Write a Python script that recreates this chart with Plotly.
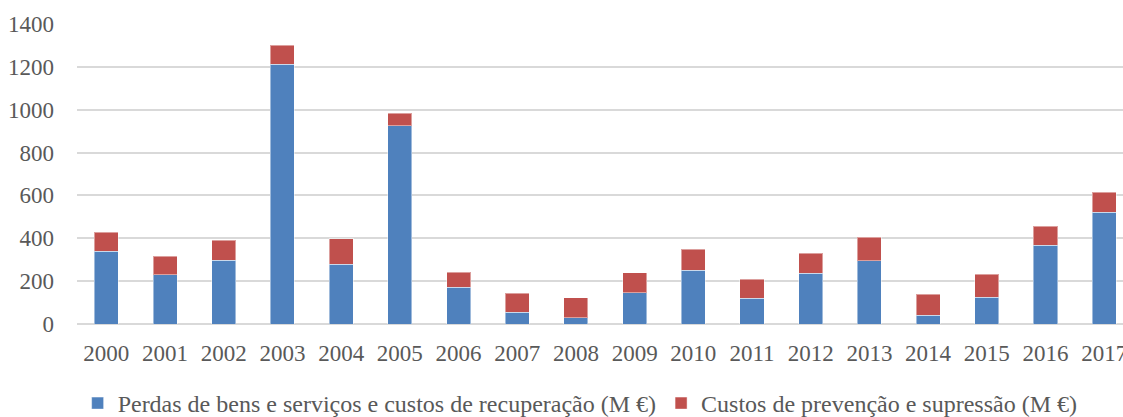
import plotly.graph_objects as go

years = ["2000", "2001", "2002", "2003", "2004", "2005", "2006", "2007", "2008",
         "2009", "2010", "2011", "2012", "2013", "2014", "2015", "2016", "2017"]
perdas = [339, 230, 297, 1212, 278, 926, 171, 54, 30, 145, 250, 120, 236, 296, 40, 126, 367, 521]
custos = [90, 87, 95, 88, 120, 57, 70, 89, 93, 95, 98, 90, 95, 108, 98, 107, 90, 93]
y_ticks = [0, 200, 400, 600, 800, 1000, 1200, 1400]

name_a = "Perdas de bens e serviços e custos de recuperação (M €)"
name_b = "Custos de prevenção e supressão (M €)"

FONT = "Times New Roman"
fig = go.Figure()
fig.add_trace(go.Bar(x=years, y=perdas, name=name_a,
                     marker=dict(color="#4F81BD", line=dict(color="rgba(255,255,255,0.45)", width=1))))
fig.add_trace(go.Bar(x=years, y=custos, name=name_b,
                     marker=dict(color="#C0504D", line=dict(color="rgba(255,255,255,0.45)", width=1))))

fig.update_layout(
    barmode="stack",
    bargap=0.59,
    width=1123, height=417,
    margin=dict(l=77, r=0, t=24, b=93, autoexpand=False),
    paper_bgcolor="white", plot_bgcolor="white",
    font=dict(family=FONT, color="#595959", size=23),
    showlegend=True,
    legend=dict(orientation="h", x=0.481, xanchor="center", y=-0.19, yanchor="top",
                font=dict(family=FONT, size=24, color="#595959"), traceorder="normal",
                itemwidth=30, tracegroupgap=0),
)
fig.update_xaxes(type="category", range=[-0.5, 17.32], showgrid=False, showline=False,
                 ticks="", tickfont=dict(family=FONT, size=23, color="#595959"), ticklabelstandoff=13)
fig.update_yaxes(range=[0, 1400], tickvals=y_ticks, showgrid=True, gridcolor="#D9D9D9",
                 gridwidth=1.5, zeroline=True, zerolinecolor="#D9D9D9", zerolinewidth=1.5,
                 showline=False, ticks="", tickfont=dict(family=FONT, size=23, color="#595959"),
                 ticklabelstandoff=22)

fig.write_html("out.html", config={"displayModeBar": False},
               post_script="document.body.style.margin='0';document.body.style.overflow='hidden';")
